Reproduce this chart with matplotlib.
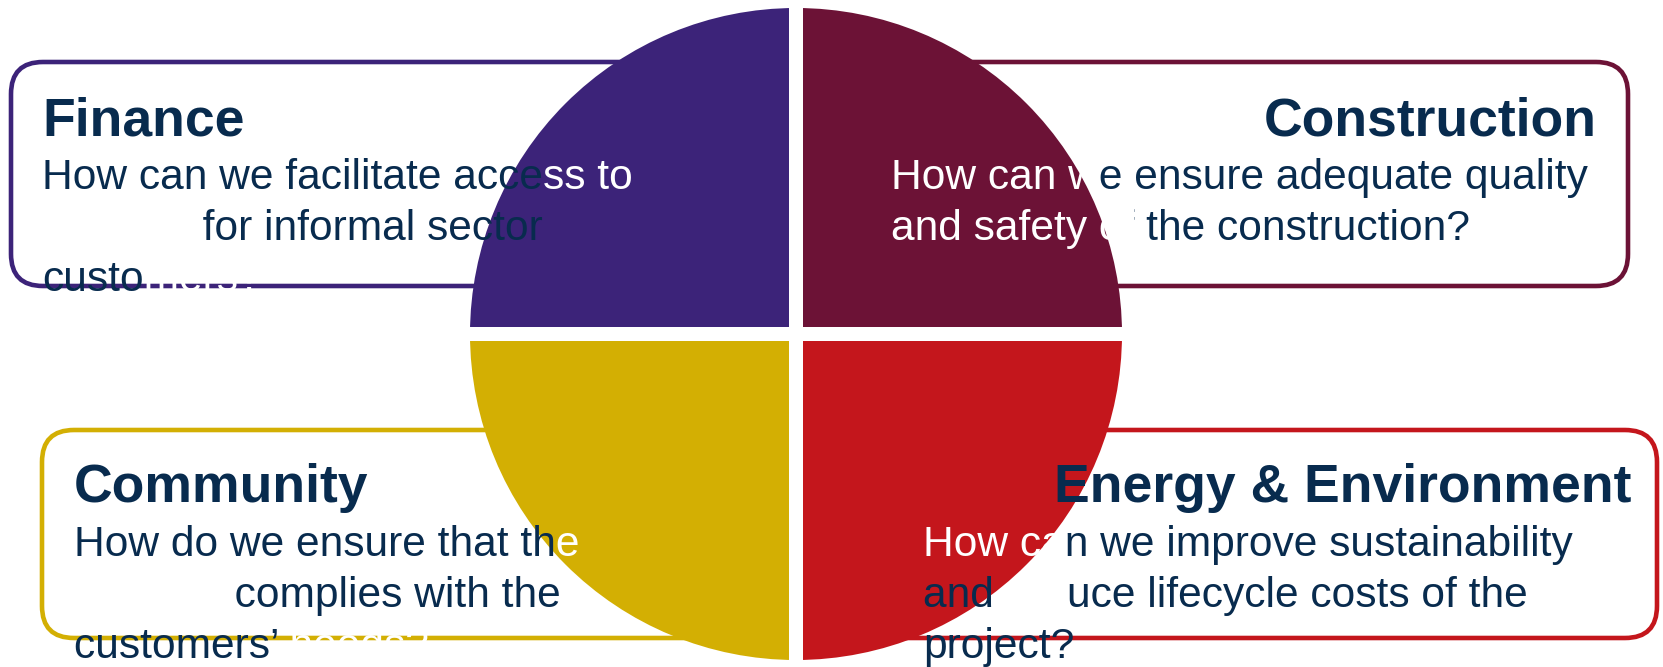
import matplotlib
matplotlib.use('Agg')
import matplotlib.pyplot as plt
from matplotlib.patches import Wedge, Rectangle, FancyBboxPatch
from matplotlib.transforms import Bbox

W, H = 1663, 667
navy = '#082B4E'
white = '#FFFFFF'

# Quadrant titles and their colours
titles = ['Finance', 'Construction', 'Community', 'Energy & Environment']
colors = ['#3C2379', '#6C1236', '#D3AF03', '#C4161C']

# Body text: each line is a list of (text, colour) runs, as seen in the picture
finance_lines = [
    [('How can we facilitate acce', navy), ('ss to', white)],
    [('housing', white), (' for informal sector', navy)],
    [('custo', navy), ('mers?', white)],
]
construction_lines = [
    [('How can w', white), ('e ensure adequate quality', navy)],
    [('and safety of', white), (' the construction?', navy)],
]
community_lines = [
    [('How do we ensure that th', navy), ('e', white)],
    [('housing', white), (' complies with the', navy)],
    [('customers\u2019', navy), (' needs?', white)],
]
energy_lines = [
    [('How ca', white), ('n we improve sustainability', navy)],
    [('and', navy), (' red', white), ('uce lifecycle costs of the', navy)],
    [('project?', navy)],
]
bodies = [finance_lines, construction_lines, community_lines, energy_lines]

# Layout (pixel coordinates, y from top)
boxes = [(11, 62, 760, 286), (830, 62, 1628, 286), (42, 430, 760, 638), (830, 430, 1657, 638)]
title_pos = [(42, 135, 'left'), (1597, 135, 'right'), (74, 502, 'left'), (1631, 502, 'right')]
body_pos = [(42, 189), (891, 189), (74, 556), (923, 556)]
line_step = 50.8
cx, cy, r, gap = 796, 334, 326, 14

font = 'Liberation Sans'
title_size = 38.5
body_size = 30.6

fig = plt.figure(figsize=(W / 100, H / 100), dpi=100)
ax = fig.add_axes([0, 0, 1, 1])
ax.set_xlim(0, W)
ax.set_ylim(H, 0)
ax.axis('off')

# Rounded boxes behind the circle
for (x0, y0, x1, y1), c in zip(boxes, colors):
    ax.add_patch(FancyBboxPatch((x0, y0), x1 - x0, y1 - y0,
                                boxstyle='round,pad=0,rounding_size=32',
                                facecolor='white', edgecolor=c, lw=3.3, zorder=1))

# Circle split into four quadrants (y axis is inverted)
angles = [(180, 270), (270, 360), (90, 180), (0, 90)]
for (a0, a1), c in zip(angles, colors):
    ax.add_patch(Wedge((cx, cy), r, a0, a1, facecolor=c, edgecolor='none', zorder=2))
ax.add_patch(Rectangle((cx - gap / 2, cy - r - 5), gap, 2 * r + 10, facecolor='white', zorder=3))
ax.add_patch(Rectangle((cx - r - 5, cy - gap / 2), 2 * r + 10, gap, facecolor='white', zorder=3))

renderer = fig.canvas.get_renderer()


def draw_line(x, y, runs):
    full = ''.join(t for t, c in runs)
    edges = [0]
    acc = ''
    for t, c in runs[:-1]:
        acc += t
        tmp = ax.text(x, y, acc, fontsize=body_size, family=font, va='baseline')
        edges.append(tmp.get_window_extent(renderer).x1)
        tmp.remove()
    edges.append(W)
    for i, (t, c) in enumerate(runs):
        txt = ax.text(x, y, full, fontsize=body_size, family=font, va='baseline',
                      color=c, zorder=5, clip_on=True)
        txt.set_clip_box(Bbox([[edges[i], -50], [edges[i + 1], H + 50]]))


for title, (tx, ty, ha), lines, (bx, by) in zip(titles, title_pos, bodies, body_pos):
    ax.text(tx, ty, title, fontsize=title_size, fontweight='bold', family=font,
            color=navy, ha=ha, va='baseline', zorder=5)
    for k, runs in enumerate(lines):
        draw_line(bx, by + k * line_step, runs)

fig.savefig('out.png', dpi=100, facecolor='white')
